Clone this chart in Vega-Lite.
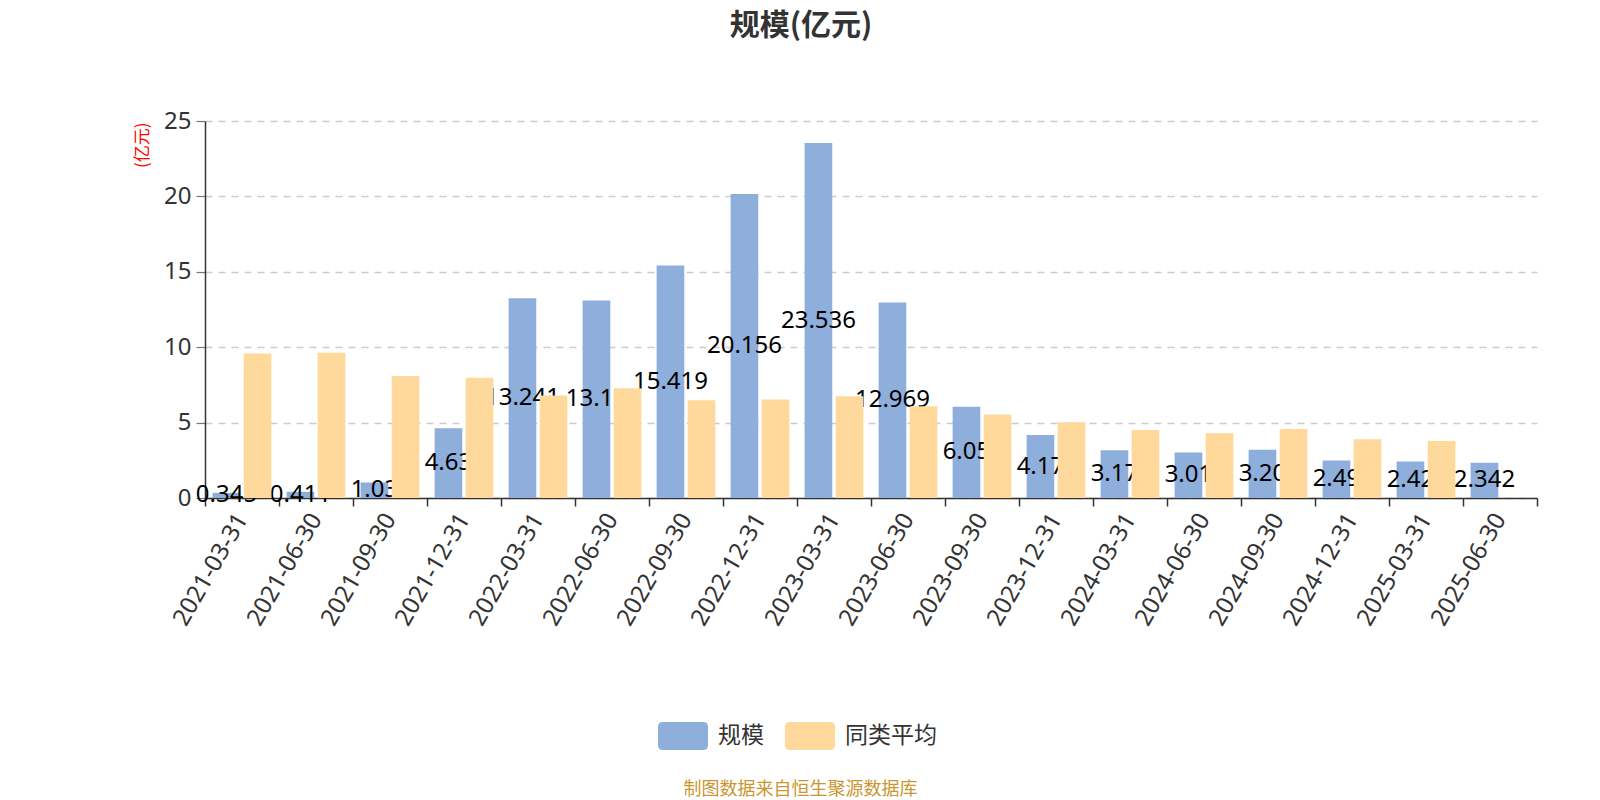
{
  "$schema": "https://vega.github.io/schema/vega-lite/v6.json",
  "width": 1332,
  "height": 377,
  "autosize": {"type": "none"},
  "padding": {"left": 205, "top": 121, "right": 63, "bottom": 302},
  "background": "white",
  "config": {"view": {"stroke": null}, "font": "Noto Sans CJK SC"},
  "title": {"text": "规模(亿元)", "fontSize": 30, "fontWeight": "bold", "color": "#333333", "anchor": "middle", "frame": "group", "dx": -70, "offset": 68, "font": "Noto Sans CJK SC"},
  "data": {"values": [
    {"date": "2021-03-31", "fund": 0.345, "peer": 9.59, "label": "0.345"},
    {"date": "2021-06-30", "fund": 0.411, "peer": 9.64, "label": "0.411"},
    {"date": "2021-09-30", "fund": 1.03, "peer": 8.09, "label": "1.03"},
    {"date": "2021-12-31", "fund": 4.63, "peer": 7.97, "label": "4.63"},
    {"date": "2022-03-31", "fund": 13.241, "peer": 6.80, "label": "13.241"},
    {"date": "2022-06-30", "fund": 13.10, "peer": 7.28, "label": "13.10"},
    {"date": "2022-09-30", "fund": 15.419, "peer": 6.49, "label": "15.419"},
    {"date": "2022-12-31", "fund": 20.156, "peer": 6.53, "label": "20.156"},
    {"date": "2023-03-31", "fund": 23.536, "peer": 6.74, "label": "23.536"},
    {"date": "2023-06-30", "fund": 12.969, "peer": 6.08, "label": "12.969"},
    {"date": "2023-09-30", "fund": 6.05, "peer": 5.54, "label": "6.05"},
    {"date": "2023-12-31", "fund": 4.17, "peer": 5.03, "label": "4.17"},
    {"date": "2024-03-31", "fund": 3.17, "peer": 4.51, "label": "3.17"},
    {"date": "2024-06-30", "fund": 3.01, "peer": 4.30, "label": "3.01"},
    {"date": "2024-09-30", "fund": 3.20, "peer": 4.57, "label": "3.20"},
    {"date": "2024-12-31", "fund": 2.49, "peer": 3.90, "label": "2.49"},
    {"date": "2025-03-31", "fund": 2.42, "peer": 3.78, "label": "2.42"},
    {"date": "2025-06-30", "fund": 2.342, "peer": null, "label": "2.342"}
  ]},
  "encoding": {
    "x": {
      "field": "date", "type": "ordinal", "sort": null,
      "scale": {"paddingInner": 0, "paddingOuter": 0},
      "axis": {
        "title": "制图数据来自恒生聚源数据库",
        "titleX": 595, "titleY": 291, "titleAlign": "center", "titleBaseline": "middle",
        "titleColor": "#c9962f", "titleFontSize": 18, "titleFontWeight": "normal", "titleFont": "Noto Sans CJK SC",
        "labelAngle": -60, "labelAlign": "right", "labelBaseline": "middle",
        "labelFontSize": 24, "labelColor": "#333333", "labelFont": "Noto Sans", "labelPadding": 9,
        "tickBand": "extent", "tickSize": 8, "tickColor": "#333333", "tickWidth": 1.5,
        "domainColor": "#333333", "domainWidth": 1.5, "grid": false
      }
    },
    "xOffset": {"scale": {"domain": ["规模", "同类平均"], "paddingInner": 0.11, "paddingOuter": 0.245}}
  },
  "layer": [
    {
      "mark": {"type": "bar"},
      "encoding": {
        "xOffset": {"datum": "规模"},
        "y": {
          "field": "fund", "type": "quantitative",
          "scale": {"domain": [0, 25], "nice": false},
          "axis": {
            "title": "(亿元)", "titleColor": "#ff0000", "titleFontSize": 17, "titleFontWeight": "normal",
            "titleAngle": -90, "titleAlign": "right", "titleBaseline": "middle", "titleX": -63, "titleY": 1,
            "values": [0, 5, 10, 15, 20, 25],
            "labelFontSize": 24, "labelColor": "#333333", "labelFont": "Noto Sans", "labelPadding": 5,
            "tickSize": 9, "tickColor": "#777777", "tickWidth": 1.2,
            "domainColor": "#333333", "domainWidth": 1.5,
            "grid": true, "gridDash": [7, 6], "gridColor": "#cccccc", "gridWidth": 1.3
          }
        },
        "color": {
          "datum": "规模", "type": "nominal",
          "scale": {"domain": ["规模", "同类平均"], "range": ["#8eaedb", "#fed99b"]},
          "legend": {
            "title": null, "orient": "none", "direction": "horizontal",
            "legendX": 453, "legendY": 590, "padding": 0,
            "symbolType": "M-0.8,-0.56 L0.8,-0.56 Q1,-0.56 1,-0.36 L1,0.36 Q1,0.56 0.8,0.56 L-0.8,0.56 Q-1,0.56 -1,0.36 L-1,-0.36 Q-1,-0.56 -0.8,-0.56 Z",
            "symbolSize": 2500, "symbolStrokeWidth": 0, "symbolOpacity": 1,
            "labelFontSize": 23, "labelColor": "#333333", "labelFont": "Noto Sans CJK SC",
            "labelOffset": 10, "columnPadding": 21
          }
        }
      }
    },
    {
      "mark": {"type": "text", "fontSize": 24, "color": "#000000", "font": "Noto Sans", "align": "center", "baseline": "middle"},
      "encoding": {
        "xOffset": {"datum": "规模"},
        "y": {"field": "fund", "type": "quantitative", "scale": {"domain": [0, 50], "nice": false}, "axis": null},
        "text": {"field": "label"}
      }
    },
    {
      "mark": {"type": "bar"},
      "encoding": {
        "xOffset": {"datum": "同类平均"},
        "y": {"field": "peer", "type": "quantitative", "scale": {"domain": [0, 25], "nice": false}, "axis": null},
        "color": {"datum": "同类平均", "type": "nominal", "scale": {"domain": ["规模", "同类平均"], "range": ["#8eaedb", "#fed99b"]}}
      }
    }
  ],
  "resolve": {"scale": {"y": "independent"}}
}
